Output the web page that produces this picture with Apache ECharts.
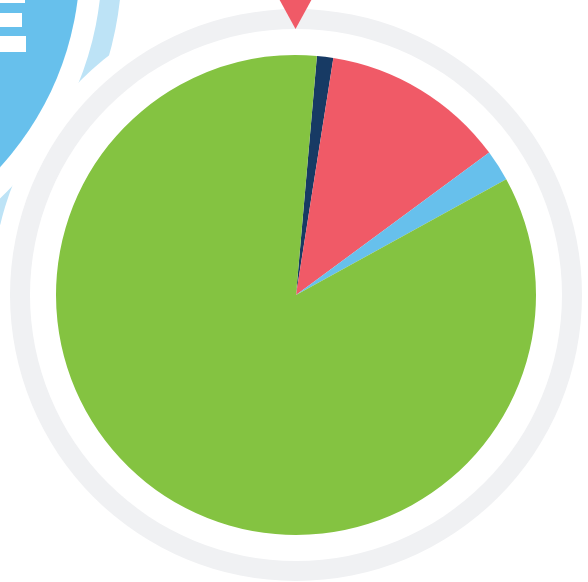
<!DOCTYPE html>
<html>
<head>
<meta charset="utf-8">
<script src="https://cdn.jsdelivr.net/npm/echarts@6/dist/echarts.min.js"></script>
<style>
    html, body { margin: 0; padding: 0; background: #fff; }
    #pieChart { width: 588px; height: 582px; }
</style>
</head>
<body>
<div id="pieChart"></div>
<script>
    // slice order clockwise from the top
    var categories = ['Navy', 'Red', 'Blue', 'Green'];
    var values = [1.1, 12.4, 2.1, 84.4];
    var colors = ['#173a64', '#f05a67', '#67c0ec', '#84c341'];

    var myChart = echarts.init(document.getElementById('pieChart'));

    var pieData = categories.map(function (name, i) {
        return { name: name, value: values[i], itemStyle: { color: colors[i] } };
    });

    var option = {
        backgroundColor: '#fff',
        animation: false,
        graphic: [
            // light blue ring behind the big circle, top left
            {
                type: 'ring',
                z: 1,
                shape: { cx: -223, cy: -38, r: 345, r0: 325 },
                style: { fill: '#bde3f6' }
            },
            // white disc cutting the light ring around the pie
            {
                type: 'circle',
                z: 2,
                shape: { cx: 296, cy: 295, r: 304 },
                style: { fill: '#fff' }
            },
            {
                type: 'circle',
                z: 3,
                shape: { cx: -223, cy: -38, r: 303 },
                style: { fill: '#67c0ec' }
            },
            { type: 'rect', z: 4, shape: { x: 0, y: -11, width: 25, height: 14 }, style: { fill: '#fff' } },
            { type: 'rect', z: 4, shape: { x: 0, y: 13, width: 22, height: 14 }, style: { fill: '#fff' } },
            { type: 'rect', z: 4, shape: { x: 0, y: 36, width: 26, height: 16 }, style: { fill: '#fff' } },
            // grey ring around the pie
            {
                type: 'ring',
                z: 4,
                shape: { cx: 296, cy: 295, r: 286, r0: 266 },
                style: { fill: '#f0f1f3' }
            },
            // red pointer at the top
            {
                type: 'polygon',
                z: 5,
                shape: { points: [[278, -3], [313, -3], [295.5, 29]] },
                style: { fill: '#f05a67' }
            }
        ],
        series: [
            {
                type: 'pie',
                z: 10,
                center: [296, 295],
                radius: 240,
                startAngle: 85,
                clockwise: true,
                silent: true,
                label: { show: false },
                labelLine: { show: false },
                itemStyle: { borderWidth: 0 },
                data: pieData
            }
        ]
    };

    myChart.setOption(option);
</script>
</body>
</html>
